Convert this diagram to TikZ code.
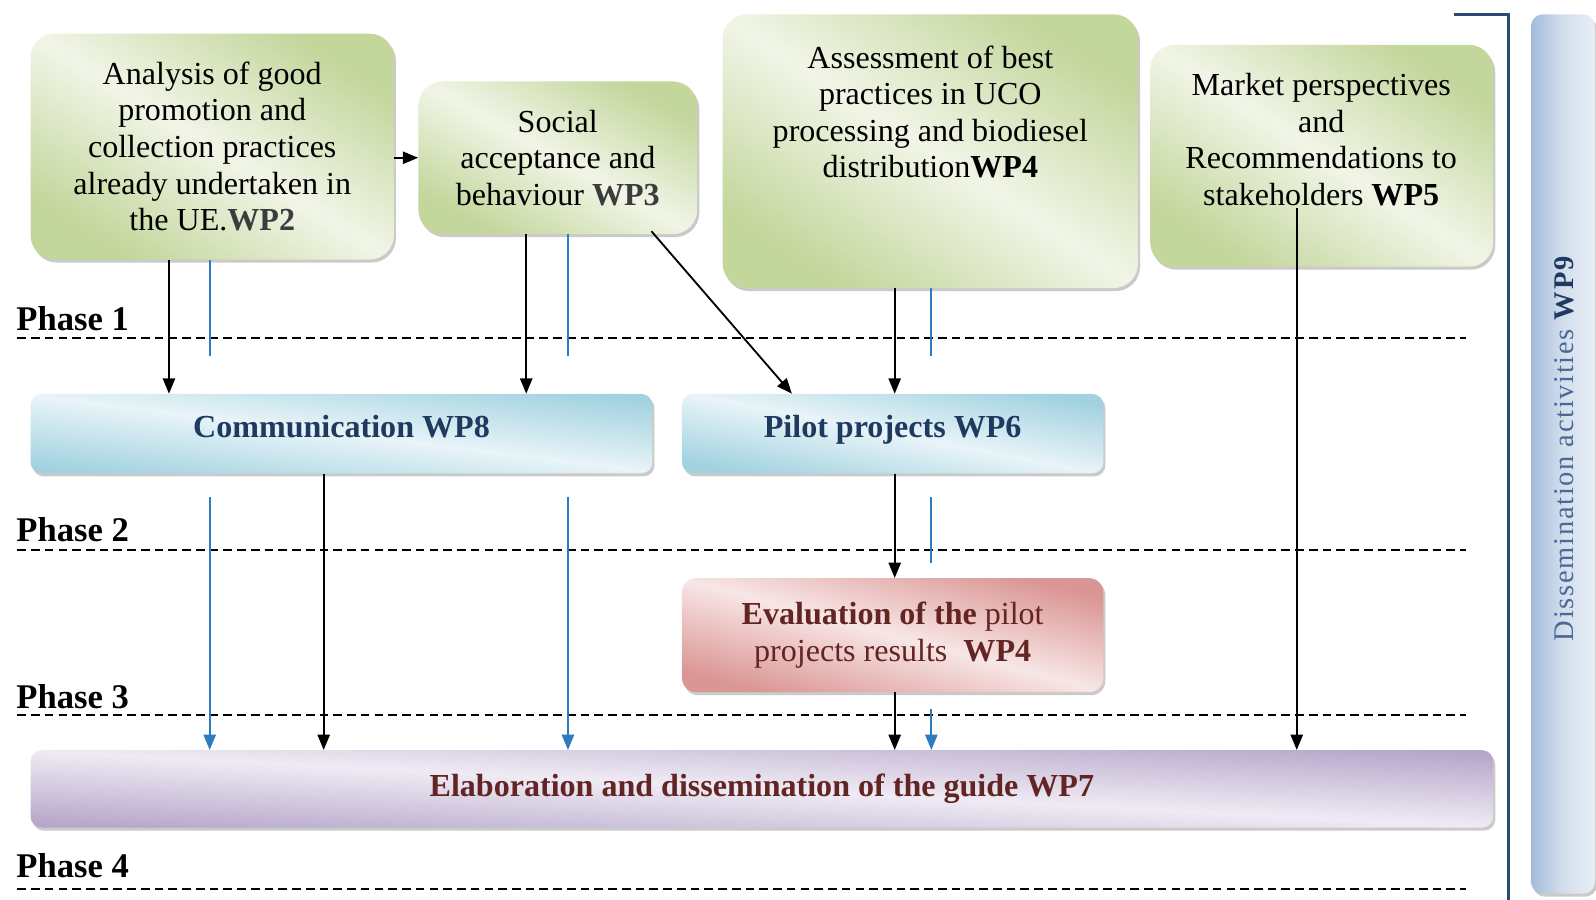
\documentclass[tikz,border=0pt]{standalone}
\usepackage{fontspec}
\setmainfont{Liberation Serif}
\usetikzlibrary{arrows.meta,shadows,calc}
\definecolor{grD}{HTML}{C3D69B}
\definecolor{grL}{HTML}{F1F5E7}
\definecolor{blD}{HTML}{A2D2E0}
\definecolor{blL}{HTML}{E8F4F8}
\definecolor{rdD}{HTML}{DA9694}
\definecolor{rdL}{HTML}{F8E6E6}
\definecolor{puD}{HTML}{B6A6CA}
\definecolor{puL}{HTML}{EFEBF4}
\definecolor{wpD}{HTML}{A3BBD9}
\definecolor{wpL}{HTML}{E8EEF6}
\definecolor{navy}{HTML}{1F3A5F}
\definecolor{darkred}{HTML}{632523}
\definecolor{arrblue}{HTML}{2E7CC0}
\definecolor{brk}{HTML}{2B4A6F}
\definecolor{wptext}{HTML}{4A6A96}
\definecolor{wpgray}{HTML}{3C3C3C}
\begin{document}
\begin{tikzpicture}[x=1pt,y=-1pt,
  every node/.style={font=\fontsize{31.5}{36}\selectfont},
  box/.style={rectangle, inner sep=0pt, align=center,
    drop shadow={shadow xshift=2pt,shadow yshift=-3pt,opacity=0.35,fill=black!60}},
  greenbox/.style={box, rounded corners=24pt, top color=grD, bottom color=grD, middle color=grL},
  bluebox/.style={box, rounded corners=11pt, top color=blD, bottom color=blD, middle color=blL, text=navy, font=\fontsize{31.5}{36}\selectfont\bfseries, text depth=14pt},
  redbox/.style={box, rounded corners=14pt, top color=rdD, bottom color=rdD, middle color=rdL, shading angle=-15, text=darkred},
  purplebox/.style={box, rounded corners=11pt, top color=puD, bottom color=puD, middle color=puL, shading angle=-3, text=darkred, font=\fontsize{31.5}{36}\selectfont\bfseries},
  wpbar/.style={rectangle, rounded corners=12pt, left color=wpD, right color=wpL, middle color=wpL!70!wpD,
    drop shadow={shadow xshift=2pt,shadow yshift=-3pt,opacity=0.35,fill=black!60}},
  boxtext/.style={align=center, inner sep=0pt},
  phase/.style={font=\fontsize{34}{40}\selectfont\bfseries, anchor=base west, inner sep=0pt},
  dashline/.style={line width=1.9pt, dash pattern=on 8.5pt off 5pt},
  arr/.style={line width=1.8pt, -{Triangle[length=15pt,width=12pt]}},
  barr/.style={arrblue, line width=1.8pt, -{Triangle[length=15pt,width=12pt]}},
  bline/.style={arrblue, line width=1.8pt}
]
\useasboundingbox (0,0) rectangle (1568,884);

% column coordinates
\coordinate (xa) at (166,0);
\coordinate (xc) at (318,0);
\coordinate (xd) at (517,0);
\coordinate (xf) at (879,0);
\coordinate (xh) at (1274,0);
\coordinate (xi) at (640,0);
\coordinate (xj) at (778,0);

% phase lines and labels
\node[phase] (ph1) at (16,325) {Phase 1};
\node[phase] (ph2) at (16,532) {Phase 2};
\node[phase] (ph3) at (16,696) {Phase 3};
\node[phase] (ph4) at (16,862) {Phase 4};
\coordinate (d1a) at (17,332);   \coordinate (d1b) at (1440,332);
\coordinate (d2a) at (17,540);   \coordinate (d2b) at (1440,540);
\coordinate (d3a) at (17,702);   \coordinate (d3b) at (1440,702);
\coordinate (d4a) at (17,873);   \coordinate (d4b) at (1440,873);
\draw[dashline] (d1a) -- (d1b);
\draw[dashline] (d2a) -- (d2b);
\draw[dashline] (d3a) -- (d3b);
\draw[dashline] (d4a) -- (d4b);

% green boxes
\node[greenbox, shading angle=-32, minimum width=357pt, minimum height=222pt] (wp2) at (208.5,144)
  {Analysis of good\\promotion and\\collection practices\\already undertaken in\\the UE.{\color{wpgray}\bfseries WP2}};
\node[greenbox, shading angle=-29, minimum width=274pt, minimum height=150pt] (wp3) at (548,155)
  {Social\\acceptance and\\behaviour {\color{wpgray}\bfseries WP3}};
\node[greenbox, shading angle=-33, minimum width=408pt, minimum height=269pt] (wp4) at (914,148.5) {};
\node[boxtext] (wp4t) at (914,110)
  {Assessment of best\\practices in UCO\\processing and biodiesel\\distribution\textbf{WP4}};
\node[greenbox, shading angle=-33, minimum width=337pt, minimum height=218pt] (wp5) at (1298.5,153) {};
\node[boxtext] (wp5t) at (1298,137)
  {Market perspectives\\and\\Recommendations to\\stakeholders \textbf{WP5}};

% blue boxes
\node[bluebox, shading angle=-7, minimum width=611pt, minimum height=78pt] (comm) at (335.5,426) {Communication WP8};
\node[bluebox, shading angle=-11, minimum width=414pt, minimum height=78pt] (pilot) at (877,426) {Pilot projects WP6};

% evaluation
\node[redbox, minimum width=414pt, minimum height=112pt] (eval) at (877,624)
  {\textbf{Evaluation of the} pilot\\projects results \ \textbf{WP4}};

% guide
\node[purplebox, minimum width=1437pt, minimum height=76pt] (wp7) at (748.5,775)
  {Elaboration and dissemination of the guide WP7};

% dissemination bar
\node[wpbar, minimum width=63pt, minimum height=864pt] (wp9) at (1535.5,446) {};
\node[rotate=90, inner sep=0pt, text=wptext, font=\fontsize{28}{32}\selectfont\addfontfeatures{LetterSpace=6}] (wp9t) at (1537,441)
  {Dissemination activities {\color{navy}\bfseries WP9}};

% bracket
\coordinate (bra) at (1428,14);
\coordinate (brb) at (1482,14);
\coordinate (brc) at (1482,884);
\draw[brk, line width=3.2pt] (bra) -- (brb) -- (brc);

% blue free ends
\coordinate (b1) at (206,350);
\coordinate (b2) at (558,350);
\coordinate (b3) at (915,350);
\coordinate (b4) at (206,488);
\coordinate (b5) at (558,488);
\coordinate (b6) at (915,488);
\coordinate (b7) at (915,553);
\coordinate (b8) at (915,697);

% connectors
\draw[arr] (wp2.east |- wp3) -- (wp3.west);
\draw[arr] (wp2.south -| xa) -- (comm.north -| xa);
\draw[bline] (wp2.south -| b1) -- (b1);
\draw[arr] (wp3.south -| xd) -- (comm.north -| xd);
\draw[bline] (wp3.south -| b2) -- (b2);
\draw[arr] ($(wp3.south -| xi)+(0,-3)$) -- (pilot.north -| xj);
\draw[arr] (wp4.south -| xf) -- (pilot.north -| xf);
\draw[bline] (wp4.south -| b3) -- (b3);
\draw[arr] (comm.south -| xc) -- (wp7.north -| xc);
\draw[barr] (b4) -- (wp7.north -| b4);
\draw[barr] (b5) -- (wp7.north -| b5);
\draw[arr] (pilot.south -| xf) -- (eval.north -| xf);
\draw[bline] (b6) -- (b7);
\draw[arr] (eval.south -| xf) -- (wp7.north -| xf);
\draw[barr] (b8) -- (wp7.north -| b8);
\draw[arr] ($(wp5t.south -| xh)+(0,2)$) -- (wp7.north -| xh);
\end{tikzpicture}
\end{document}
